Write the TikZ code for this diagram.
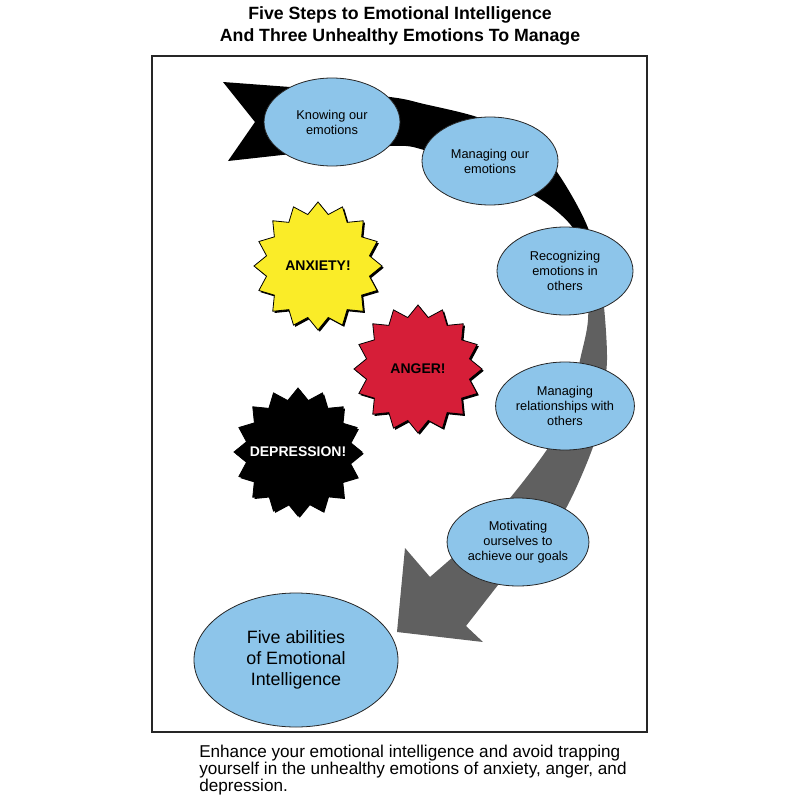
\documentclass[tikz,border=0pt]{standalone}
\usepackage{fontspec}
\setmainfont{Liberation Sans}
\usetikzlibrary{shapes.geometric}
\usetikzlibrary{shadows}

\definecolor{skillblue}{RGB}{141,197,234}
\definecolor{burstyellow}{RGB}{250,236,40}
\definecolor{burstred}{RGB}{214,30,56}
\definecolor{ribbongray}{RGB}{96,96,96}
\pgfdeclareverticalshading{ribbon}{100bp}{color(0bp)=(ribbongray); color(55bp)=(ribbongray); color(61bp)=(black); color(100bp)=(black)}

\tikzset{
  skill/.style={ellipse, draw=black!85, line width=0.6pt, fill=skillblue, inner sep=0pt,
    minimum width=102pt, minimum height=66pt, align=center, font=\fontsize{9.6}{11.3}\selectfont},
  burst/.style={star, star points=16, star point ratio=1.22, minimum size=96pt, inner sep=0pt,
    draw=black, line width=0.6pt, font=\fontsize{10.5}{12}\selectfont\bfseries,
    drop shadow={shadow xshift=1.3pt, shadow yshift=-1.3pt, opacity=1, fill=black}}
}

\begin{document}
\begin{tikzpicture}[x=0.75pt, y=-0.75pt]
      \useasboundingbox (0,0) rectangle (800,800);

      \node[align=center, font=\fontsize{13.3}{16}\selectfont\bfseries] (title) at (400,26) {Five Steps to Emotional Intelligence\\And Three Unhealthy Emotions To Manage};
      \draw[line width=1.1pt, black!85] (152,56) rectangle (647,732);

      \shade[shading=ribbon] (223,82) -- plot[smooth] coordinates {(290,87) (390,97) (424,104) (477,117) (525,138) (557,172) (588,228) (602,290) (607,360) (600,410) (593,447) (565,510) (530,553) (498,585)}
        -- (466,626) -- (483,642) -- (397,632) -- (405,548) -- (430,577)
        -- plot[smooth] coordinates {(453,557) (482,527) (510,498) (548,448) (570,405) (580,360) (588,320) (586,270) (573,228) (537,197) (480,172) (424,150) (390,146) (282,155)}
        -- (228,161) -- (255,122) -- cycle;

      \node[skill] (know) at (332,122) {Knowing our\\emotions};
      \node[skill] (manage) at (490,161) {Managing our\\emotions};
      \node[skill] (recog) at (565,271) {Recognizing\\emotions in\\others};
      \node[skill] (relate) at (565,406) {Managing\\relationships with\\others};
      \node[skill] (motive) at (518,542) {Motivating\\ourselves to\\achieve our goals};
      \node[skill, minimum width=153pt, minimum height=100.5pt, font=\fontsize{13.4}{15.8}\selectfont] (five) at (296,660) {Five abilities\\of Emotional\\Intelligence};

      \node[burst, fill=burstyellow] (anxiety) at (318,266) {\makebox[0pt]{ANXIETY!}};
      \node[burst, fill=burstred] (anger) at (418,369) {\makebox[0pt]{ANGER!}};
      \node[burst, fill=black, text=white] (depression) at (298,452) {\makebox[0pt]{DEPRESSION!}};

      \node[anchor=north west, inner sep=0pt, align=left, font=\fontsize{12.85}{12.6}\selectfont] (note) at (199,745) {Enhance your emotional intelligence and avoid trapping\\yourself in the unhealthy emotions of anxiety, anger, and\\depression.};
    \end{tikzpicture}
\end{document}
